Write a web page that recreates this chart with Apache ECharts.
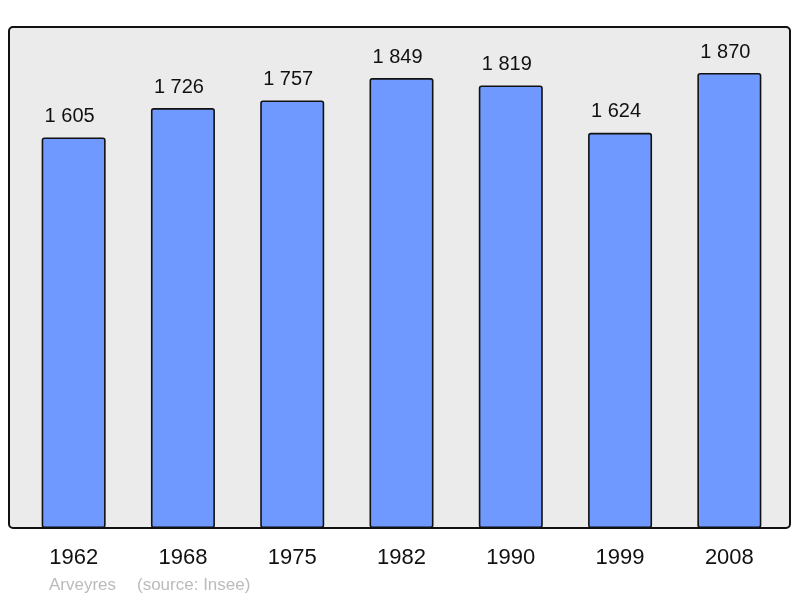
<!DOCTYPE html>
<html>
<head>
<meta charset="utf-8">
<script src="https://cdn.jsdelivr.net/npm/echarts@6/dist/echarts.min.js"></script>
<style>html,body{margin:0;padding:0;background:#fff}#c{width:800px;height:598px}</style>
</head>
<body>
<div id="c"></div>
<script>
const years = ['1962','1968','1975','1982','1990','1999','2008'];
const population = [1605, 1726, 1757, 1849, 1819, 1624, 1870];
const place = 'Arveyres';
const source = '(source: Insee)';

const chart = echarts.init(document.getElementById('c'), null, {renderer: 'canvas'});
const fmt = v => String(v).replace(/\B(?=(\d{3})+(?!\d))/g, ' ');
chart.setOption({
  animation: false,
  backgroundColor: '#ffffff',
  grid: {left: 19, right: 16, top: 28, bottom: 70},
  xAxis: {
    type: 'category', data: years,
    axisLine: {show: false}, axisTick: {show: false},
    axisLabel: {fontFamily: 'Liberation Sans', fontSize: 22, color: '#111', margin: 19}
  },
  yAxis: {type: 'value', min: 0, max: 2055, show: false, splitLine: {show: false}},
  graphic: [
    {type: 'rect', z: -10, shape: {x: 9, y: 27, width: 781, height: 501, r: 4},
     style: {fill: '#ebebeb', stroke: null}},
    {type: 'rect', z: 100, shape: {x: 9, y: 27, width: 781, height: 501, r: 4},
     style: {fill: null, stroke: '#111', lineWidth: 2}},
    {type: 'text', left: 49, top: 577, style: {text: place, fontFamily: 'Liberation Sans', fontSize: 17, fill: '#bbbbbb'}},
    {type: 'text', left: 137, top: 577, style: {text: source, fontFamily: 'Liberation Sans', fontSize: 17, fill: '#bbbbbb'}}
  ],
  series: [{
    type: 'bar', data: population, barWidth: 64,
    itemStyle: {color: '#7099ff', borderColor: '#111', borderWidth: 1.6, borderRadius: 2},
    label: {show: true, position: 'top', distance: 11, offset: [-4, 0], formatter: p => fmt(p.value),
      fontFamily: 'Liberation Sans', fontSize: 20, color: '#111'}
  }]
});
</script>
</body>
</html>
